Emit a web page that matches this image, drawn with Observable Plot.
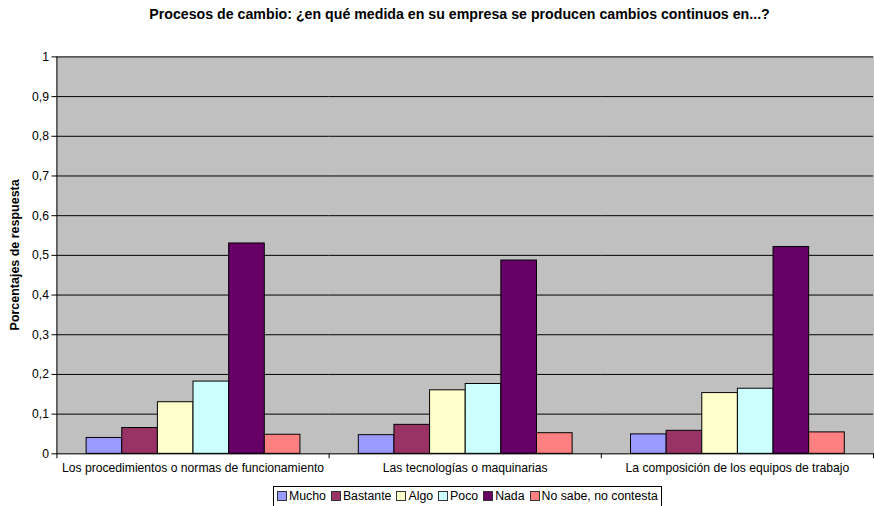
<!DOCTYPE html>
<html><head><meta charset="utf-8">
<script src="https://cdn.jsdelivr.net/npm/d3@7"></script>
<script src="https://cdn.jsdelivr.net/npm/@observablehq/plot@0.6"></script>
<style>
html,body{margin:0;padding:0;background:#fff;overflow:hidden;}
#wrap{position:relative;width:874px;height:506px;overflow:hidden;font-family:"Liberation Sans",Arial,sans-serif;color:#000;}
#title{position:absolute;left:0;width:919px;top:6px;line-height:17px;text-align:center;font-weight:bold;font-size:14.2px;}
#chart{position:absolute;left:0;top:0;}
#legend{position:absolute;left:273px;top:486px;border:1px solid #000;display:flex;align-items:center;font-size:12.3px;line-height:14px;padding:2px 3px 5px 3px;background:#fff;white-space:nowrap;}
#legend .it{display:flex;align-items:center;margin-right:5px;}
#legend .it:last-child{margin-right:0;}
#legend .sw{width:8px;height:8px;border:1px solid #333;margin-right:2px;}
</style></head>
<body>
<div id="wrap">
  <div id="title">Procesos de cambio: ¿en qué medida en su empresa se producen cambios continuos en...?</div>
  <div id="chart"></div>
  <div id="legend"></div>
</div>
<script>
const categories = ["Los procedimientos o normas de funcionamiento", "Las tecnologías o maquinarias", "La composición de los equipos de trabajo"];
const series = ["Mucho", "Bastante", "Algo", "Poco", "Nada", "No sabe, no contesta"];
const colors = ["#9999ff", "#993366", "#ffffcc", "#ccffff", "#660066", "#ff8080"];
const mucho    = [0.040, 0.047, 0.049];
const bastante = [0.065, 0.073, 0.058];
const algo     = [0.130, 0.160, 0.153];
const poco     = [0.182, 0.176, 0.164];
const nada     = [0.530, 0.487, 0.521];
const nsnc     = [0.048, 0.052, 0.054];
const yTicks = [0, 0.1, 0.2, 0.3, 0.4, 0.5, 0.6, 0.7, 0.8, 0.9, 1];
const yLabel = "Porcentajes de respuesta";

const valuesBySeries = [mucho, bastante, algo, poco, nada, nsnc];
const data = [];
categories.forEach((c, ci) => series.forEach((s, si) => data.push({cat: c, series: s, value: valuesBySeries[si][ci]})));

const chart = Plot.plot({
  width: 883, height: 485,
  marginLeft: 56, marginRight: 0, marginTop: 57, marginBottom: 27,
  style: {fontFamily: "'Liberation Sans', Arial, sans-serif", fontSize: "12.3px", background: "transparent", color: "#000", overflow: "visible"},
  fx: {domain: categories, padding: 0, label: null, axis: "bottom", tickSize: 0, tickPadding: 10},
  x: {domain: series, paddingInner: 0, paddingOuter: 0.75, axis: null},
  y: {domain: [0, 1], axis: null},
  color: {domain: series, range: colors},
  marks: [
    Plot.frame({fill: "#c0c0c0", stroke: "#c0c0c0"}),
    Plot.ruleY(yTicks.filter(d => d > 0), {stroke: "#000", strokeWidth: 1}),
    Plot.barY(data, {fx: "cat", x: "series", y: "value", fill: "series", stroke: "#000", strokeWidth: 1}),
    Plot.ruleY([0], {stroke: "#000", strokeWidth: 1}),
    Plot.axisY({ticks: yTicks, tickFormat: d => String(d).replace(".", ","), tickSize: 5, tickPadding: 3, label: null, facetAnchor: "left", fontSize: 12.3})
  ]
});
document.getElementById("chart").appendChild(chart);

// Category-boundary ticks, left axis line and y label, positioned via the library's scales
const fxS = chart.scale("fx"), yS = chart.scale("y");
const svg = d3.select(chart);
const y0 = yS.apply(0), y1 = yS.apply(1);
const bounds = categories.map(c => fxS.apply(c)).concat([fxS.apply(categories[categories.length-1]) + fxS.bandwidth]);
const g = svg.append("g").attr("stroke", "#000").attr("stroke-width", 1);
bounds.forEach(b => g.append("line").attr("x1", b + 0.5).attr("x2", b + 0.5).attr("y1", y0).attr("y2", y0 + 5));
g.append("line").attr("x1", bounds[0] + 0.5).attr("x2", bounds[0] + 0.5).attr("y1", y1).attr("y2", y0 + 0.5);
svg.append("text").text(yLabel)
  .attr("transform", `translate(19,${(y0 + y1) / 2}) rotate(-90)`)
  .attr("text-anchor", "middle").attr("font-weight", "bold").attr("font-size", 12.6)
  .attr("font-family", "'Liberation Sans', Arial, sans-serif").attr("fill", "#000");

// Legend
const leg = document.getElementById("legend");
series.forEach((s, i) => {
  const it = document.createElement("div"); it.className = "it";
  const sw = document.createElement("span"); sw.className = "sw"; sw.style.background = colors[i];
  const tx = document.createElement("span"); tx.textContent = s;
  it.appendChild(sw); it.appendChild(tx); leg.appendChild(it);
});
</script>
</body></html>
